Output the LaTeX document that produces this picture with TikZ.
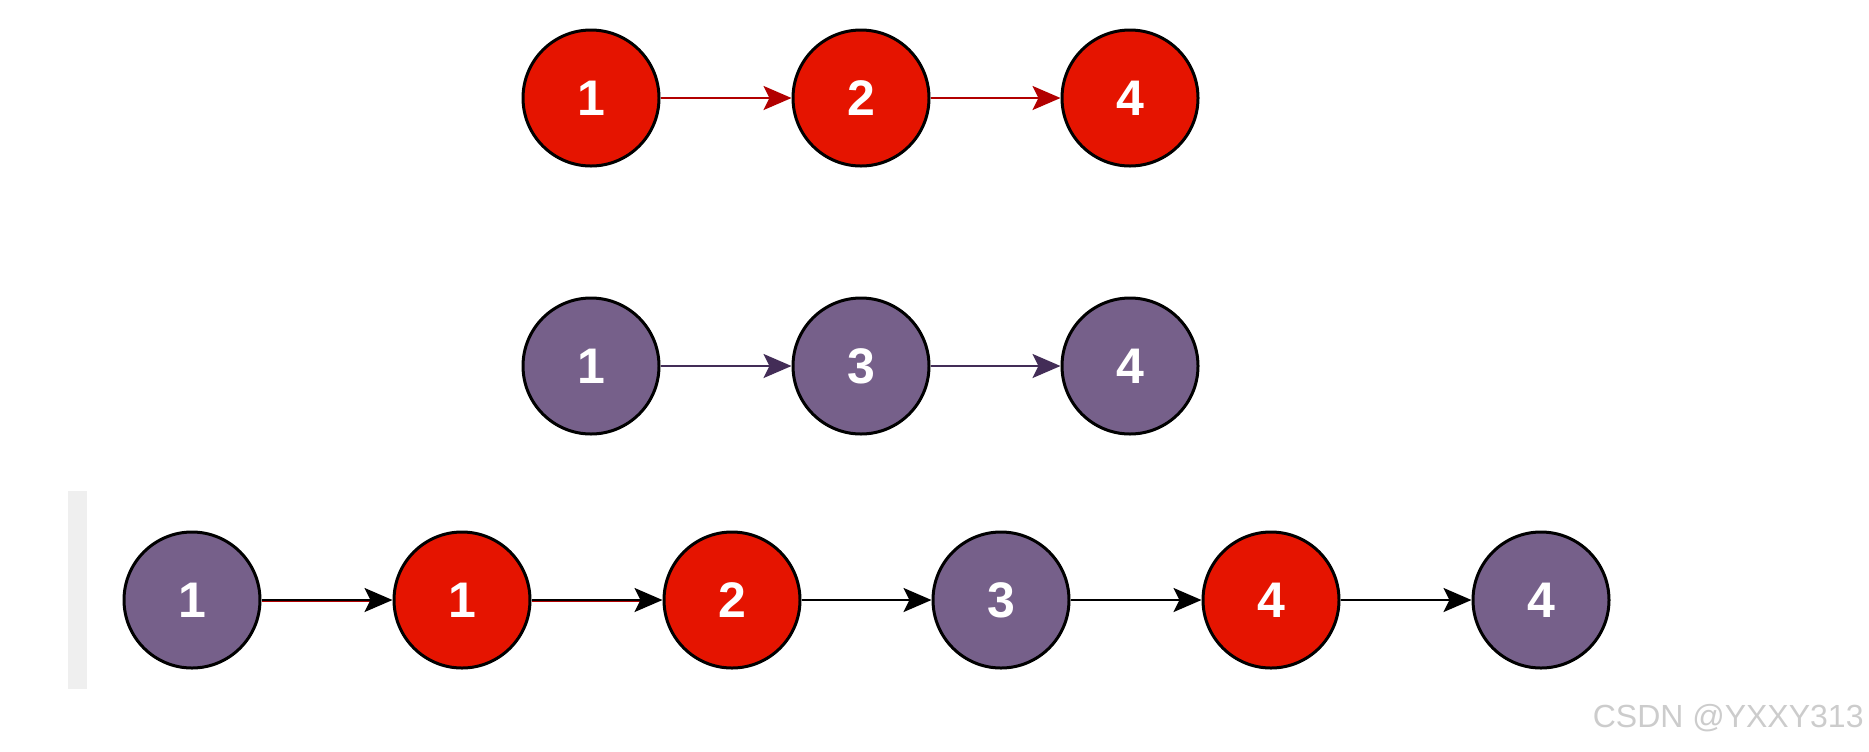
\documentclass[tikz,border=0pt]{standalone}
\usepackage{fontspec}
\setmainfont{Liberation Sans}
\usetikzlibrary{arrows.meta}
\definecolor{nred}{HTML}{E51400}
\definecolor{npurple}{HTML}{76608A}
\definecolor{ared}{HTML}{B20000}
\definecolor{apurple}{HTML}{432D57}
\definecolor{barg}{HTML}{EFEFEF}
\definecolor{wmark}{HTML}{CCCCCC}
\tikzset{
  nodebase/.style={circle, draw=black, line width=1.5pt, minimum size=68pt, inner sep=0pt,
    text=white, font=\fontsize{25}{29}\selectfont\bfseries},
  rednode/.style={nodebase, fill=nred},
  purnode/.style={nodebase, fill=npurple},
  conn/.style={line width=1.3pt, -{Stealth[length=14pt,width=12pt,inset=3pt]}},
}
\begin{document}
\begin{tikzpicture}[x=0.5pt,y=-0.5pt]
\useasboundingbox (0,0) rectangle (1869,751);
\fill[barg] (68,491) rectangle (87,689);
% top row
\node[rednode] (t1) at (591,98) {1};
\node[rednode] (t2) at (861,98) {2};
\node[rednode] (t3) at (1130,98) {4};
\draw[conn, ared] (t1) -- (t2);
\draw[conn, ared] (t2) -- (t3);
% middle row
\node[purnode] (m1) at (591,366) {1};
\node[purnode] (m2) at (861,366) {3};
\node[purnode] (m3) at (1130,366) {4};
\draw[conn, apurple] (m1) -- (m2);
\draw[conn, apurple] (m2) -- (m3);
% bottom row
\node[purnode] (b1) at (192,600) {1};
\node[rednode] (b2) at (462,600) {1};
\node[rednode] (b3) at (732,600) {2};
\node[purnode] (b4) at (1001,600) {3};
\node[rednode] (b5) at (1271,600) {4};
\node[purnode] (b6) at (1541,600) {4};
\draw[ared, line width=0.8pt] ([yshift=-0.7pt]b1.east) -- ([yshift=-0.7pt,xshift=-10pt]b2.west);
\draw[ared, line width=0.8pt] ([yshift=-0.7pt]b2.east) -- ([yshift=-0.7pt,xshift=-10pt]b3.west);
\draw[conn, black] (b1) -- (b2);
\draw[conn, black] (b2) -- (b3);
\draw[conn, black] (b3) -- (b4);
\draw[conn, black] (b4) -- (b5);
\draw[conn, black] (b5) -- (b6);
% watermark
\node[anchor=east, text=wmark, font=\fontsize{16}{19}\selectfont, inner sep=0pt] (wm) at (1864,718) {CSDN @YXXY313};
\end{tikzpicture}
\end{document}
